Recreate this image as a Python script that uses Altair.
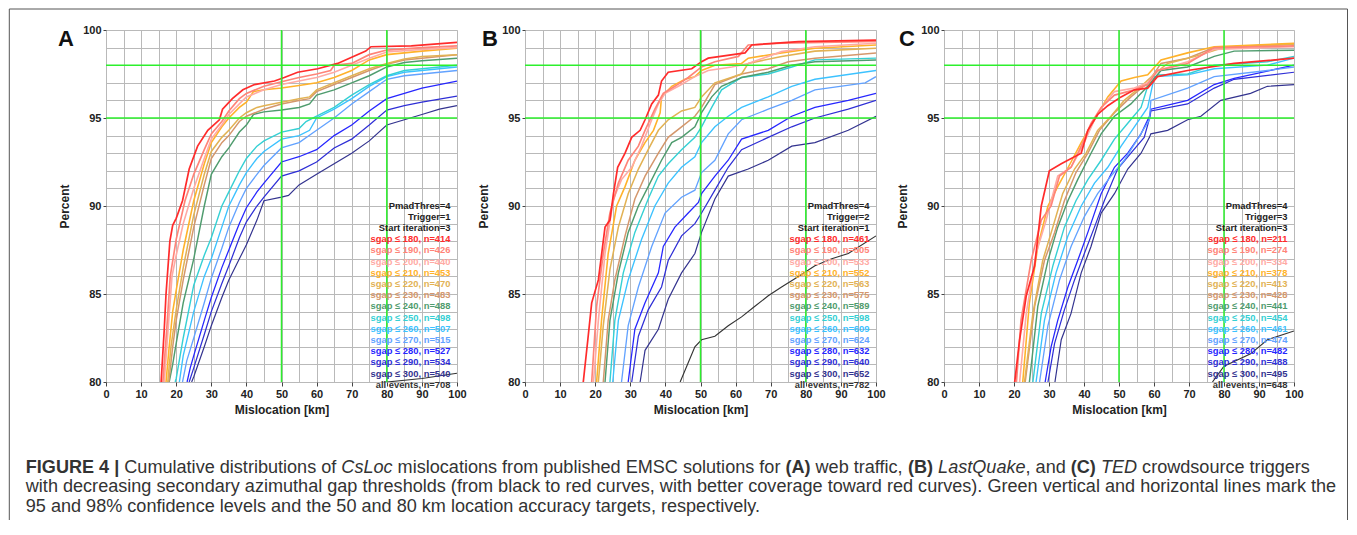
import altair as alt
import pandas as pd

FONT = "Liberation Sans"

SERIES = ["180", "190", "200", "210", "220", "230", "240", "250", "260", "270", "280", "290", "300", "all"]
COLORS = ["#ff2b2b", "#ff8478", "#ffaaa4", "#ffb22a", "#e2b254", "#d4976c", "#4f9c6e",
          "#35d0d4", "#3cc2ff", "#62a2ff", "#2626ff", "#2e2ed6", "#33338f", "#333333"]
LABELS = ["sgap ≤ 180", "sgap ≤ 190", "sgap ≤ 200", "sgap ≤ 210", "sgap ≤ 220", "sgap ≤ 230",
          "sgap ≤ 240", "sgap ≤ 250", "sgap ≤ 260", "sgap ≤ 270", "sgap ≤ 280", "sgap ≤ 290",
          "sgap ≤ 300", "all events"]

# ---------------- Panel A (web traffic) ----------------
A_MIS = {
    "180": [15.7, 16.6, 17.1, 18.2, 19, 20, 21.8, 23.7, 26.1, 29, 32.3, 33.2, 36, 39, 42.3, 48, 50.8, 54.6, 60.3, 66, 74, 75.5, 87, 100],
    "190": [16.2, 17.3, 18.3, 20, 22.5, 25, 28, 30, 33, 35, 38, 40, 45, 50, 55, 60, 64, 65, 70, 75, 80, 90, 100],
    "200": [16.6, 17.7, 18.8, 20, 22, 25, 28, 30, 33, 35, 38, 40, 45, 50, 55, 60, 65, 70, 75, 80, 90, 100],
    "210": [17.1, 18, 19, 20, 22, 25, 28, 30, 33, 35, 38, 40, 42, 45, 50, 55, 60, 65, 70, 75, 80, 90, 100],
    "220": [17.6, 18.5, 20, 22, 25, 28, 30, 33, 35, 38, 40, 43, 45, 50, 55, 58, 60, 65, 70, 75, 80, 85, 90, 100],
    "230": [17.9, 19, 20, 22, 25, 28, 30, 33, 35, 38, 40, 45, 50, 55, 58, 60, 65, 70, 75, 80, 85, 90, 100],
    "240": [18, 19, 20, 22, 25, 28, 30, 33, 35, 38, 40, 42, 45, 50, 55, 58, 60, 65, 70, 75, 80, 85, 90, 100],
    "250": [19.7, 20, 22, 25, 28, 30, 33, 35, 38, 40, 43, 45, 50, 55, 57, 60, 65, 70, 75, 80, 85, 90, 100],
    "260": [20.9, 22, 25, 28, 30, 33, 35, 38, 40, 43, 45, 50, 55, 58, 60, 65, 70, 75, 80, 85, 90, 100],
    "270": [21.8, 23, 25, 28, 30, 33, 35, 38, 40, 43, 45, 50, 55, 60, 65, 70, 75, 80, 85, 90, 100],
    "280": [23.1, 24, 25, 28, 30, 33, 35, 38, 40, 43, 45, 50, 55, 60, 65, 70, 75, 80, 85, 90, 100],
    "290": [23.7, 25, 28, 30, 33, 35, 38, 40, 43, 45, 50, 55, 60, 65, 70, 75, 80, 85, 90, 100],
    "300": [24.4, 25, 28, 30, 33, 35, 38, 40, 43, 45, 50, 52, 55, 60, 65, 70, 75, 80, 85, 90, 95, 100],
    "all": [70, 80, 90, 100],
}
A_PCT = {
    "180": [80, 83, 85, 88, 88.9, 89.3, 90.3, 92.1, 93.4, 94.3, 94.9, 95.5, 96.1, 96.6, 96.9, 97.1, 97.3, 97.6, 97.8, 98.1, 98.8, 99.05, 99.1, 99.3],
    "190": [80, 83, 86, 88.1, 90.3, 91.8, 93.2, 94.1, 94.8, 95.4, 96.1, 96.4, 96.8, 97.06, 97.3, 97.5, 97.7, 98.0, 98.1, 98.6, 98.86, 99.0, 99.1],
    "200": [80, 83, 86, 87.2, 89, 91, 92.7, 93.8, 94.6, 95.2, 95.8, 96.2, 96.6, 96.9, 97.1, 97.3, 97.6, 98.0, 98.4, 98.75, 98.9, 99.0],
    "210": [80, 82, 84, 85.2, 87.5, 90.3, 92.4, 93.6, 94.5, 95.0, 95.6, 95.9, 96.5, 96.6, 96.7, 96.85, 97.0, 97.3, 97.7, 98.3, 98.6, 98.8, 98.96],
    "220": [80, 82, 84.1, 86.5, 89.5, 91.8, 93.1, 93.9, 94.3, 95, 95.3, 95.6, 95.7, 95.9, 96.1, 96.2, 96.6, 97.0, 97.4, 97.8, 98.1, 98.35, 98.5, 98.6],
    "230": [80, 82, 83.5, 85.8, 88.8, 91.2, 92.7, 93.6, 94.0, 94.8, 95.1, 95.5, 95.8, 96.0, 96.1, 96.5, 96.9, 97.3, 97.7, 98.05, 98.3, 98.4, 98.6],
    "240": [80, 81, 82.2, 84.5, 87, 90, 91.8, 92.8, 93.3, 94.2, 94.6, 95.2, 95.35, 95.45, 95.6, 95.8, 96.3, 96.6, 97.0, 97.4, 97.9, 98.15, 98.25, 98.4],
    "250": [80, 80.2, 82.5, 85.5, 87.2, 88.2, 90, 90.8, 92, 92.7, 93.4, 93.7, 94.2, 94.4, 94.8, 95.1, 95.6, 96.3, 96.9, 97.4, 97.7, 97.8, 98.0],
    "260": [80, 81.5, 84, 86, 87, 88.8, 90.0, 91.2, 91.9, 92.7, 93.1, 93.8, 94.0, 94.3, 95.0, 95.5, 96.1, 96.8, 97.35, 97.6, 97.7, 97.9],
    "270": [80, 81.2, 82.5, 84.5, 85.9, 87.6, 88.8, 90.2, 91.0, 91.8, 92.3, 93.3, 93.6, 94.3, 95.0, 95.8, 96.5, 97.2, 97.4, 97.5, 97.7],
    "280": [80, 80.8, 81.5, 83.5, 84.8, 86.5, 87.5, 89, 89.9, 90.8, 91.3, 92.5, 92.8, 93.2, 94.0, 94.6, 95.4, 96.1, 96.4, 96.7, 97.1],
    "290": [80, 80.8, 82.7, 84, 85.6, 86.6, 88.2, 89.1, 90, 90.5, 91.7, 92.0, 92.5, 93.3, 93.8, 94.6, 95.45, 95.7, 95.9, 96.25],
    "300": [80, 80.3, 82, 83.2, 84.8, 85.8, 87, 87.8, 89.2, 90.3, 90.5, 90.6, 91.2, 91.8, 92.4, 93.0, 93.7, 94.6, 94.9, 95.2, 95.5, 95.7],
    "all": [79.7, 80.0, 80.2, 80.5],
}

# ---------------- Panel B (LastQuake) ----------------
B_MIS = {
    "180": [16.6, 17.9, 19, 20.9, 22.8, 24.2, 25.2, 26.4, 28.5, 30.4, 32.8, 34.2, 36.1, 38, 38.9, 40.8, 47.5, 50.3, 52.2, 62.7, 64.6, 77.9, 100],
    "190": [19, 20.4, 22.3, 24.2, 26.6, 29.4, 32.3, 34.2, 37, 39.4, 42.7, 46.5, 50.3, 54.1, 60.8, 63.6, 73.1, 100],
    "200": [19.5, 20.9, 22.8, 25.2, 27.5, 30.4, 33.2, 36.1, 38, 39.9, 43.7, 48.4, 52.2, 58.9, 63.6, 73.1, 82.6, 100],
    "210": [20.4, 21.8, 23.7, 26.1, 28.5, 31.3, 34.2, 36.6, 38.5, 38.9, 41.8, 45.6, 48.4, 50.3, 54.1, 61.7, 63.6, 73.1, 82.6, 100],
    "220": [20.9, 22.3, 24.2, 26.6, 29.4, 32.3, 35.1, 38, 40.8, 44.6, 48.4, 50.3, 54.1, 61.7, 63.6, 73.1, 82.6, 100],
    "230": [22.3, 23.7, 25.6, 28.5, 31.3, 34.2, 38, 40.8, 44.6, 48.4, 50.3, 54.1, 61.7, 69.3, 75, 82.6, 100],
    "240": [22.8, 24.2, 26.6, 29.4, 32.3, 35.1, 38.9, 41.8, 44.6, 48.4, 50.3, 53.2, 56, 61.7, 69.3, 76, 82.6, 100],
    "250": [24.2, 25.6, 28, 31.3, 35.1, 38, 40.8, 44.6, 48.4, 50.3, 53.2, 56, 61.7, 69.3, 76, 82.6, 100],
    "260": [25, 26.6, 29.4, 33.2, 37, 40.8, 44.6, 48.4, 50.3, 54.1, 57.9, 61.7, 69.3, 76, 82.6, 100],
    "270": [27.5, 29.4, 32.3, 36.1, 39.9, 44.6, 48.4, 50.3, 54.1, 57.9, 61.7, 69.3, 76, 82.6, 96.9, 100],
    "280": [29.4, 31.3, 34.2, 38, 39.4, 42.7, 46.5, 49.4, 50.3, 54.1, 57.9, 61.7, 69.3, 76, 82.6, 92.1, 100],
    "290": [30.4, 32.3, 35.1, 38.9, 40.8, 44.6, 48.4, 50.3, 54.1, 57.9, 61.7, 69.3, 76, 82.6, 92.1, 100],
    "300": [32.8, 34.2, 38, 40.8, 44.6, 48.4, 50.3, 54.1, 57.9, 63.6, 69.3, 76, 82.6, 92.1, 100],
    "all": [44.2, 48.4, 50.3, 54.1, 57.9, 61.7, 65.5, 69.3, 73.1, 77.9, 82.6, 87.4, 92.1, 100],
}
B_PCT = {
    "180": [80, 82.4, 84.5, 85.8, 88.8, 89.2, 90.7, 92.2, 93, 93.9, 94.3, 94.9, 95.8, 96.3, 97.1, 97.6, 97.8, 98.2, 98.4, 98.7, 99.15, 99.34, 99.43],
    "190": [80, 84.3, 87.3, 89.6, 91.3, 92.6, 93.4, 94.3, 95.5, 96.4, 96.8, 97.3, 97.9, 98.2, 98.5, 99.15, 99.25, 99.35],
    "200": [80, 83.5, 87.3, 90.4, 91.5, 92.2, 93.4, 94.9, 95.8, 96.4, 96.8, 97.35, 97.7, 97.9, 98.1, 98.77, 99.05, 99.25],
    "210": [80, 83.5, 87.3, 90, 91.1, 92.6, 93.6, 94.3, 95.3, 96.2, 96.8, 97.2, 97.35, 97.7, 98.0, 98.1, 98.4, 98.7, 98.96, 99.15],
    "220": [80, 83.2, 86.4, 88.8, 90.7, 92.1, 93.2, 94.3, 94.9, 95.4, 95.6, 96.2, 97.0, 97.5, 98.1, 98.5, 98.8, 98.96],
    "230": [80, 83.5, 85.8, 88.3, 90.4, 91.7, 93, 93.9, 94.5, 95.1, 95.6, 96.9, 97.5, 97.8, 98.2, 98.4, 98.7],
    "240": [80, 83.5, 86.2, 88.5, 90, 91.1, 92.6, 93.6, 93.9, 94.5, 95.3, 96.2, 96.8, 97.3, 97.6, 98.0, 98.2, 98.3],
    "250": [80, 83.5, 86.2, 88.5, 90.4, 91.7, 92.4, 93.2, 93.9, 94.5, 95.6, 96.6, 97.3, 97.5, 97.9, 98.3, 98.4],
    "260": [80, 83.5, 85.8, 88.1, 90, 91.3, 92.2, 92.8, 93.6, 94.5, 95.1, 95.6, 96.2, 96.8, 97.2, 97.7],
    "270": [80, 83.2, 85.4, 87.7, 89.6, 90.5, 90.9, 91.9, 92.6, 94.1, 94.9, 95.5, 96.0, 96.6, 97.0, 97.35],
    "280": [80, 83, 84.5, 86.2, 87.7, 88.8, 89.6, 90.2, 90.7, 91.7, 92.6, 93.8, 94.3, 95.1, 95.6, 96.0, 96.4],
    "290": [80, 82.6, 84.1, 85.4, 86.9, 88.3, 89, 89.6, 90.9, 92.2, 93.2, 93.9, 94.5, 95.0, 95.5, 96.0],
    "300": [80, 81.8, 83, 84.7, 86.2, 87.3, 88.5, 90.4, 91.7, 92.1, 92.6, 93.4, 93.6, 94.3, 95.1],
    "all": [80, 82, 82.4, 82.6, 83.2, 83.7, 84.3, 84.9, 85.4, 86.0, 86.6, 87.0, 87.3, 88.3],
}

# ---------------- Panel C (TED) ----------------
C_MIS = {
    "180": [20.2, 21.6, 23.5, 25.9, 27.8, 30.1, 33.5, 39.2, 41.1, 43.9, 46.8, 50.6, 54.4, 58.2, 61, 69.6, 82.9, 100],
    "190": [20.7, 22, 24.9, 27.8, 30.6, 33, 36.3, 39.2, 42, 44.9, 48.7, 54.4, 58.2, 61, 69.6, 77.2, 100],
    "200": [21.6, 23.5, 26.3, 29.2, 32.5, 36.3, 39.6, 43, 45.8, 48.7, 54.4, 58.2, 61, 69.6, 77.2, 100],
    "210": [22.5, 24.4, 26.8, 29.7, 32.5, 36.3, 39.2, 43, 46.8, 50.6, 54.4, 58.2, 62, 69.6, 77.2, 100],
    "220": [23, 25.4, 28.2, 31.1, 33.9, 37.3, 40.6, 43.9, 47.7, 51.5, 56.3, 60.1, 63.9, 73.4, 79.1, 100],
    "230": [23.2, 25.9, 28.7, 31.6, 34.4, 37.7, 41.1, 44.4, 48.7, 53.4, 58.2, 62, 69.6, 77.2, 100],
    "240": [24.4, 26.8, 29.7, 32.5, 35.4, 38.2, 41.5, 44.9, 48.7, 53.4, 58.2, 62, 69.6, 77.2, 82.9, 100],
    "250": [25.4, 27.8, 31.1, 34.4, 37.7, 41.1, 44.9, 48.7, 52.5, 56.3, 58.2, 61, 69.6, 77.2, 92.4, 100],
    "260": [26.3, 28.7, 32, 35.4, 39.2, 43, 46.8, 50.6, 54.4, 58.2, 60.1, 69.6, 77.2, 92.4, 100],
    "270": [27.3, 29.7, 33, 36.3, 40.1, 43.9, 47.7, 51.5, 55.3, 58.7, 59.1, 69.6, 77.2, 92.4, 100],
    "280": [28.9, 30.6, 32.5, 35.4, 38.2, 41.1, 44.9, 48.7, 52.5, 56.3, 58.7, 59.1, 69.6, 77.2, 82.9, 100],
    "290": [29.7, 31.6, 34.4, 37.3, 40.1, 43, 45.8, 49.6, 53.4, 57.2, 58.9, 59.1, 69.6, 77.2, 82.9, 100],
    "300": [31.7, 33.5, 36.3, 39.2, 42, 44.9, 48.7, 52.5, 56.3, 58.7, 59.1, 63.9, 69.6, 73.4, 79.1, 87.6, 92.4, 100],
    "all": [76.7, 80, 87.6, 92.4, 100],
}
C_PCT = {
    "180": [80, 82.4, 84.9, 86.6, 90, 92.0, 92.4, 93.0, 94.3, 95.2, 95.7, 96.2, 96.6, 96.7, 97.35, 97.7, 98.1, 98.4],
    "190": [80, 83.5, 86.9, 89.2, 90, 91.7, 92.2, 93.4, 94.7, 95.6, 96.3, 96.6, 96.9, 97.7, 98.1, 99.0, 99.1],
    "200": [80, 83.9, 87.3, 89.2, 91.7, 92.2, 93.4, 94.9, 95.8, 96.5, 96.7, 97.0, 97.7, 98.2, 98.9, 99.05],
    "210": [80, 84.5, 87.7, 90, 91.1, 92.5, 93.6, 94.9, 96.2, 97.1, 97.3, 97.45, 98.3, 98.7, 99.05, 99.25],
    "220": [80, 83.9, 86.9, 88.8, 90.7, 92.1, 93.0, 94.3, 95.1, 96.0, 96.8, 97.5, 98.1, 98.6, 98.96, 99.2],
    "230": [80, 84.3, 86.9, 88.5, 90.3, 91.9, 93.0, 94.3, 95.3, 96.2, 97.0, 98.1, 98.4, 99.0, 99.2],
    "240": [80, 84.3, 86.9, 88.8, 90.3, 91.5, 92.8, 94.1, 95.1, 95.8, 96.8, 97.7, 97.9, 98.5, 98.8, 98.85],
    "250": [80, 83.9, 86.6, 88.8, 90.3, 91.5, 92.6, 93.8, 94.7, 95.6, 96.8, 97.45, 97.5, 98.0, 98.2, 98.5],
    "260": [80, 83.5, 86.2, 88.3, 90.0, 91.3, 92.2, 93.4, 94.5, 95.6, 97.35, 97.45, 97.8, 98.0, 98.4],
    "270": [80, 83.2, 85.8, 87.7, 89.4, 90.7, 91.7, 92.6, 93.8, 94.9, 96.0, 96.7, 97.35, 97.7, 97.9],
    "280": [80, 82.0, 83.5, 85.4, 86.9, 88.5, 90.7, 92.2, 93.0, 94.1, 95.1, 95.5, 96.0, 96.9, 97.25, 98.0],
    "290": [80, 82.2, 84.1, 85.8, 87.3, 88.8, 90.3, 92.1, 93.0, 93.9, 95.1, 95.4, 95.8, 96.7, 97.2, 97.6],
    "300": [80, 82.4, 83.9, 86.2, 87.7, 89.6, 90.7, 92.1, 93.0, 93.9, 94.1, 94.3, 94.9, 95.1, 96.0, 96.4, 96.8, 96.9],
    "all": [80, 80.9, 81.6, 82.4, 82.9],
}

A_N = [414, 426, 440, 453, 470, 483, 488, 498, 507, 515, 527, 534, 540, 708]
B_N = [461, 505, 533, 552, 563, 575, 589, 598, 609, 624, 632, 640, 652, 782]
C_N = [211, 274, 334, 378, 413, 428, 441, 454, 461, 474, 482, 488, 495, 648]
A_HEAD = ["PmadThres=4", "Trigger=1", "Start iteration=3"]
B_HEAD = ["PmadThres=4", "Trigger=2", "Start iteration=1"]
C_HEAD = ["PmadThres=4", "Trigger=3", "Start iteration=3"]

GREEN_X = [50, 80]
GREEN_Y = [95, 98]
X_TICKS = list(range(0, 101, 5))
Y_TICKS = list(range(80, 101))

CAPTION_1 = [("FIGURE 4 | ", "bold", "normal"), ("Cumulative distributions of ", "normal", "normal"),
             ("CsLoc", "normal", "italic"), (" mislocations from published EMSC solutions for ", "normal", "normal"),
             ("(A)", "bold", "normal"), (" web traffic, ", "normal", "normal"), ("(B)", "bold", "normal"),
             (" ", "normal", "normal"), ("LastQuake", "normal", "italic"), (", and ", "normal", "normal"),
             ("(C)", "bold", "normal"), (" ", "normal", "normal"), ("TED", "normal", "italic"),
             (" crowdsource triggers", "normal", "normal")]
CAPTION_2 = ("with decreasing secondary azimuthal gap thresholds (from black to red curves, with better "
             "coverage toward red curves). Green vertical and horizontal lines mark the")
CAPTION_3 = "95 and 98% confidence levels and the 50 and 80 km location accuracy targets, respectively."

# Arial / Liberation Sans advance widths (1/1000 em) for placing caption runs
_REG = dict(zip("abcdefghijklmnopqrstuvwxyz", [556, 556, 500, 556, 556, 278, 556, 556, 222, 222, 500, 222, 833, 556, 556, 556, 556, 333, 500, 278, 556, 500, 722, 500, 500, 500]))
_REG.update(dict(zip("ABCDEFGHIJKLMNOPQRSTUVWXYZ", [667, 667, 722, 722, 667, 611, 778, 722, 278, 500, 667, 556, 833, 722, 778, 667, 778, 722, 667, 611, 722, 667, 944, 667, 667, 611])))
_REG.update({" ": 278, ",": 278, ".": 278, "(": 333, ")": 333, "%": 889, "|": 260, "-": 333})
_REG.update({d: 556 for d in "0123456789"})
_BOLD = dict(zip("abcdefghijklmnopqrstuvwxyz", [556, 611, 556, 611, 556, 333, 611, 611, 278, 278, 556, 278, 889, 611, 611, 611, 611, 389, 556, 333, 611, 556, 778, 556, 556, 500]))
_BOLD.update(dict(zip("ABCDEFGHIJKLMNOPQRSTUVWXYZ", [722, 722, 722, 722, 667, 611, 778, 722, 278, 556, 722, 611, 833, 722, 778, 667, 778, 722, 667, 611, 722, 667, 944, 667, 667, 611])))
_BOLD.update({" ": 278, ",": 278, ".": 278, "(": 333, ")": 333, "%": 889, "|": 280, "-": 333})
_BOLD.update({d: 556 for d in "0123456789"})


def em(s, bold=False):
    t = _BOLD if bold else _REG
    return sum(t.get(c, 556) for c in s) / 1000.0


CAP_FS = round(1310.0 / em(CAPTION_2), 2)

W = [351, 351, 350]
H = 352
one = pd.DataFrame({"k": [0]})

TEXT_COLOR = "#222222"
GRID_COLOR = "#b9b9b9"


def x_axis():
    return alt.Axis(values=X_TICKS, labelExpr="datum.value % 10 == 0 ? datum.label : ''",
                    grid=True, gridColor=GRID_COLOR, gridWidth=1, domain=False,
                    tickSize=4, tickColor="#444444",
                    tickOpacity={"condition": {"test": "datum.value % 10 == 0", "value": 1}, "value": 0},
                    labelFont=FONT, labelFontSize=11, labelFontWeight="bold", labelColor=TEXT_COLOR,
                    labelPadding=2, labelFlush=False, labelOverlap=False,
                    titleFont=FONT, titleFontSize=12, titleFontWeight="bold", titleColor=TEXT_COLOR,
                    titlePadding=5)


def y_axis():
    return alt.Axis(values=Y_TICKS, labelExpr="datum.value % 5 == 0 ? datum.label : ''",
                    grid=True, gridColor=GRID_COLOR, gridWidth=1, domain=False,
                    tickSize=3, tickColor="#444444",
                    tickOpacity={"condition": {"test": "datum.value % 5 == 0", "value": 1}, "value": 0},
                    labelFont=FONT, labelFontSize=11, labelFontWeight="bold", labelColor=TEXT_COLOR,
                    labelPadding=2, labelFlush=False, labelOverlap=False,
                    titleFont=FONT, titleFontSize=12, titleFontWeight="bold", titleColor=TEXT_COLOR,
                    titlePadding=11)


XS = alt.Scale(domain=[0, 100], nice=False, zero=False)
YS = alt.Scale(domain=[80, 100], nice=False, zero=False)
XT = "Mislocation [km]"
YT = "Percent"


def panel(mis, pct, counts, head, letter, letter_dx, width, extra=()):
    rows = []
    for s in reversed(SERIES):
        for i, (xv, yv) in enumerate(zip(mis[s], pct[s])):
            rows.append({"series": s, "mis": xv, "pct": yv, "ord": i})
    df = pd.DataFrame(rows)
    lines = alt.Chart(df).mark_line(clip=True, interpolate="linear").encode(
        x=alt.X("mis:Q", scale=XS, axis=x_axis(), title=XT),
        y=alt.Y("pct:Q", scale=YS, axis=y_axis(), title=YT),
        color=alt.Color("series:N", scale=alt.Scale(domain=SERIES, range=COLORS), legend=None),
        strokeWidth=alt.StrokeWidth("series:N", scale=alt.Scale(domain=SERIES, range=[1.7] + [1.15] * 13), legend=None),
        order=alt.Order("ord:Q"),
    )
    gv = alt.Chart(pd.DataFrame({"g": GREEN_X})).mark_rule(color="#2cf02c", strokeWidth=1.5).encode(
        x=alt.X("g:Q", scale=XS, axis=x_axis(), title=XT))
    gh = alt.Chart(pd.DataFrame({"g": GREEN_Y})).mark_rule(color="#2cf02c", strokeWidth=1.5).encode(
        y=alt.Y("g:Q", scale=YS, axis=y_axis(), title=YT))
    layers = [lines, gv, gh]
    legend_rows = [(h, TEXT_COLOR) for h in head] + [
        (f"{lab}, n={n}", col) for lab, n, col in zip(LABELS, counts, COLORS)]
    for i, (txt, col) in enumerate(legend_rows):
        layers.append(alt.Chart(one).mark_text(
            text=txt, align="right", baseline="middle", font=FONT, fontSize=9.4, fontWeight="bold", color=col
        ).encode(x=alt.value(width - 6.5), y=alt.value(175.5 + 11.2 * i)))
    layers.append(alt.Chart(one).mark_text(
        text=letter, align="center", baseline="alphabetic", font=FONT, fontSize=22, fontWeight="bold", color="#111111"
    ).encode(x=alt.value(letter_dx), y=alt.value(16)))
    layers.extend(extra)
    return alt.layer(*layers).properties(width=width, height=H)


# Figure frame and caption (drawn relative to panel A's plot area)
frame_color = "#555555"
deco = [
    alt.Chart(one).mark_rule(color=frame_color, strokeWidth=1).encode(
        x=alt.value(-96.7), y=alt.value(-21), y2=alt.value(490)),
    alt.Chart(one).mark_rule(color=frame_color, strokeWidth=1).encode(
        x=alt.value(-96.7), x2=alt.value(1241.5), y=alt.value(-21)),
    alt.Chart(one).mark_rule(color=frame_color, strokeWidth=1).encode(
        x=alt.value(1241.5), y=alt.value(-21), y2=alt.value(490)),
]
cap_x0 = -80.2
xpos = cap_x0
for seg, weight, style in CAPTION_1:
    bold = weight == "bold"
    stripped = seg.strip()
    lead = len(seg) - len(seg.lstrip())
    if stripped:
        deco.append(alt.Chart(one).mark_text(
            text=stripped, align="left", baseline="middle", font=FONT, fontSize=CAP_FS,
            fontWeight=weight, fontStyle=style, color="#333333"
        ).encode(x=alt.value(xpos + em(" " * lead, bold) * CAP_FS), y=alt.value(437.5)))
    xpos += em(seg, bold) * CAP_FS
for txt, yy in [(CAPTION_2, 457), (CAPTION_3, 476.5)]:
    deco.append(alt.Chart(one).mark_text(
        text=txt, align="left", baseline="middle", font=FONT, fontSize=CAP_FS, color="#333333"
    ).encode(x=alt.value(cap_x0), y=alt.value(yy)))

pa = panel(A_MIS, A_PCT, A_N, A_HEAD, "A", -40, W[0], extra=deco)
pb = panel(B_MIS, B_PCT, B_N, B_HEAD, "B", -35, W[1])
pc = panel(C_MIS, C_PCT, C_N, C_HEAD, "C", -37, W[2])

chart = alt.hconcat(pa, pb, pc, spacing=68, bounds="flush").properties(
    padding={"left": 0, "top": 0, "right": 0, "bottom": 0}
).configure_view(stroke="#444444", strokeWidth=1.5).configure(background="white")

chart.save("out.html", embed_options={"renderer": "svg", "actions": False})
